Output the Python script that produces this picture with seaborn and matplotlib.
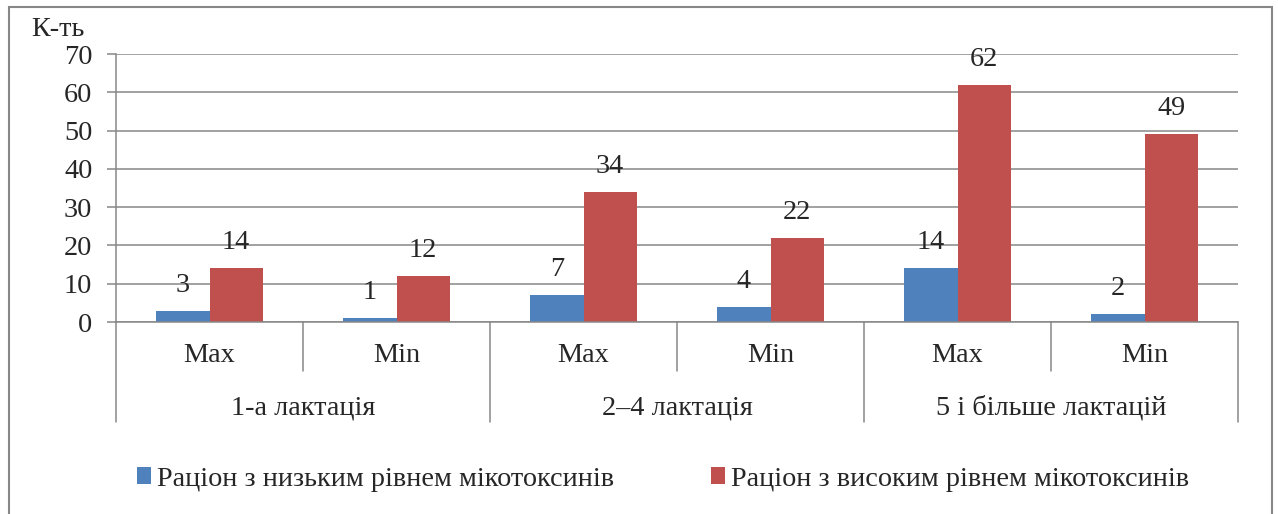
import numpy as np
import pandas as pd
import matplotlib
matplotlib.use("Agg")
import matplotlib.pyplot as plt
import seaborn as sns
from matplotlib.patches import Patch, Rectangle
from matplotlib.transforms import blended_transform_factory

# ---- data ----
groups = ["1-а лактація", "2–4 лактація", "5 і більше лактацій"]
levels = ["Max", "Min"]
series = ["Раціон з низьким рівнем мікотоксинів", "Раціон з високим рівнем мікотоксинів"]
low_values = [3, 1, 7, 4, 14, 2]
high_values = [14, 12, 34, 22, 62, 49]
y_ticks = [0, 10, 20, 30, 40, 50, 60, 70]
y_label = "К-ть"

# ---- style ----
colors = ["#4F81BD", "#C0504D"]
grey = "#878787"
FS = 20.3

sns.set_style("white")
plt.rcParams["font.family"] = ["Liberation Serif", "DejaVu Serif"]

cats = [f"{g}|{l}" for g in groups for l in levels]
df = pd.DataFrame({
    "cat": cats * 2,
    "value": low_values + high_values,
    "series": [series[0]] * len(cats) + [series[1]] * len(cats),
})

fig = plt.figure(figsize=(12.78, 5.14), dpi=100)
W, H = 1278, 514
ax = fig.add_axes([116 / W, 1 - 322 / H, (1238 - 116) / W, (322 - 54) / H])

sns.barplot(data=df, x="cat", y="value", hue="series", order=cats, hue_order=series,
            palette=colors, width=0.57, gap=0, saturation=1, legend=False,
            linewidth=0, ax=ax)

ax.set_xlim(-0.5, len(cats) - 0.5)
ax.set_ylim(0, 70)
ax.set_yticks(y_ticks)
ax.set_yticklabels([str(t) for t in y_ticks], fontsize=FS)
ax.set_xticks([])
ax.set_xlabel("")
ax.set_ylabel("")
ax.set_axisbelow(True)
ax.yaxis.grid(True, color=grey, linewidth=1.1)
ax.tick_params(axis="y", length=6.5, width=1.1, color=grey, pad=10.5, left=True)
for s in ["top", "right"]:
    ax.spines[s].set_visible(False)
for s in ["left", "bottom"]:
    ax.spines[s].set_color(grey)
    ax.spines[s].set_linewidth(1.1)

# value labels
for cont in ax.containers:
    for bar in cont:
        h = bar.get_height()
        ax.annotate(f"{h:g}", (bar.get_x() + bar.get_width() / 2, h),
                    xytext=(0, 18.3), textcoords="offset points",
                    ha="center", va="center", fontsize=FS)

# multi-level category axis
tr = blended_transform_factory(ax.transData, ax.transAxes)
ax_h = 322 - 54
inner_len = 49 / ax_h
outer_len = 100 / ax_h
n = len(cats)
for i in range(n + 1):
    x = i - 0.5
    ln = outer_len if i % len(levels) == 0 else inner_len
    ax.plot([x, x], [0, -ln], transform=tr, color=grey, lw=1.1, clip_on=False)
for i, c in enumerate(cats):
    ax.text(i, -34 / ax_h, c.split("|")[1], transform=tr, ha="center", va="center", fontsize=FS)
for gi, g in enumerate(groups):
    xc = gi * len(levels) + (len(levels) - 1) / 2
    ax.text(xc, -86 / ax_h, g, transform=tr, ha="center", va="center", fontsize=FS)

# y-axis title
fig.text(58 / W, 1 - 29 / H, y_label, ha="center", va="center", fontsize=FS)

# legend
handles = [Patch(facecolor=c, edgecolor="none") for c in colors]
fig.legend(handles, series, loc="center left", bbox_to_anchor=(137 / W, 1 - 479 / H),
           ncol=2, frameon=False, fontsize=FS, handlelength=0.5, handleheight=0.5,
           handletextpad=0.2, columnspacing=3.45, borderpad=0, borderaxespad=0)

# outer chart border
fig.add_artist(Rectangle((8.5 / W, -0.05), (1272 - 8.5) / W, 1.05 - 7 / H,
                         transform=fig.transFigure, fill=False, edgecolor=grey, lw=1.5))

fig.savefig("out.png", dpi=100)
